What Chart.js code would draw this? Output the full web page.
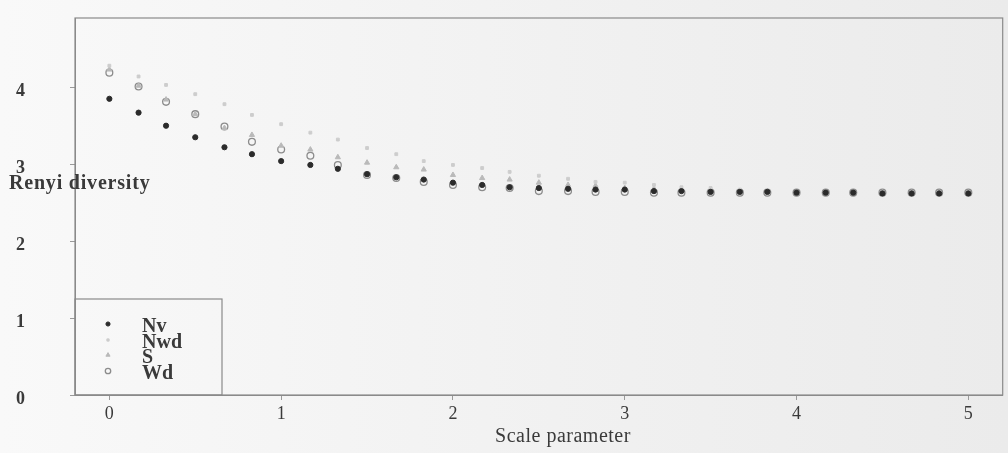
<!DOCTYPE html>
<html>
<head>
<meta charset="utf-8">
<script src="https://cdn.jsdelivr.net/npm/chart.js@4/dist/chart.umd.min.js"></script>
<style>
  html, body { margin: 0; padding: 0; }
  body { width: 1008px; height: 453px; overflow: hidden;
         background: linear-gradient(to right, #f9f9f9 0%, #f1f1f1 55%, #ebebeb 100%); }
</style>
</head>
<body>
<canvas id="chart-renyi" width="1008" height="453"></canvas>
<script>
// scale parameter (x) and Renyi diversity per site
const scaleParam = [0, 0.17, 0.33, 0.5, 0.67, 0.83, 1, 1.17, 1.33, 1.5, 1.67, 1.83, 2, 2.17, 2.33, 2.5,
                    2.67, 2.83, 3, 3.17, 3.33, 3.5, 3.67, 3.83, 4, 4.17, 4.33, 4.5, 4.67, 4.83, 5];
const nv  = [3.85, 3.67, 3.50, 3.35, 3.22, 3.13, 3.04, 2.99, 2.94, 2.87, 2.83, 2.80, 2.76, 2.73, 2.70, 2.69,
             2.68, 2.67, 2.67, 2.65, 2.65, 2.64, 2.64, 2.64, 2.63, 2.63, 2.63, 2.62, 2.62, 2.62, 2.62];
const nwd = [4.28, 4.14, 4.03, 3.91, 3.78, 3.64, 3.52, 3.41, 3.32, 3.21, 3.13, 3.04, 2.99, 2.95, 2.90, 2.85,
             2.81, 2.77, 2.76, 2.73, 2.70, 2.69, 2.67, 2.65, 2.64, 2.64, 2.63, 2.63, 2.63, 2.63, 2.63];
const s   = [4.23, 4.02, 3.84, 3.65, 3.47, 3.38, 3.24, 3.19, 3.09, 3.02, 2.96, 2.93, 2.86, 2.82, 2.80, 2.76,
             2.73, 2.72, 2.69, 2.68, 2.67, 2.65, 2.64, 2.64, 2.63, 2.63, 2.63, 2.63, 2.63, 2.63, 2.63];
const wd  = [4.19, 4.01, 3.81, 3.65, 3.49, 3.29, 3.19, 3.11, 2.99, 2.86, 2.82, 2.77, 2.73, 2.70, 2.69, 2.65,
             2.65, 2.64, 2.64, 2.63, 2.63, 2.63, 2.63, 2.63, 2.63, 2.63, 2.63, 2.63, 2.63, 2.63, 2.63];
const siteNames = ['Nv', 'Nwd', 'S', 'Wd'];
const xTicks = [0, 1, 2, 3, 4, 5];
const yTicks = [0, 1, 2, 3, 4];

const toPoints = (ys) => ys.map((y, i) => ({ x: scaleParam[i], y }));

const series = [
  { label: siteNames[0], data: toPoints(nv),  pointStyle: 'circle',   pointRadius: 2.6, backgroundColor: '#2b2b2b', borderColor: '#2b2b2b', pointBorderWidth: 1 },
  { label: siteNames[1], data: toPoints(nwd), pointStyle: 'rect',     pointRadius: 2,   backgroundColor: '#cdcdcd', borderColor: '#cdcdcd', pointBorderWidth: 1 },
  { label: siteNames[2], data: toPoints(s),   pointStyle: 'triangle', pointRadius: 3,   backgroundColor: '#b9b9b9', borderColor: '#b9b9b9', pointBorderWidth: 1 },
  { label: siteNames[3], data: toPoints(wd),  pointStyle: 'circle',   pointRadius: 3.4, backgroundColor: 'rgba(0,0,0,0)', borderColor: '#8c8c8c', pointBorderWidth: 1.3 }
];

// R style box, horizontal axis titles and bottom-left legend
const rPlotExtras = {
  id: 'rPlotExtras',
  afterDraw(chart) {
    const { ctx, chartArea: a } = chart;
    ctx.save();
    ctx.strokeStyle = '#8a8a8a';
    ctx.lineWidth = 1.2;
    ctx.strokeRect(a.left, a.top, a.right - a.left, a.bottom - a.top);

    ctx.fillStyle = '#3a3a3a';
    ctx.textBaseline = 'middle';
    ctx.textAlign = 'left';
    ctx.letterSpacing = '0.8px';
    ctx.font = 'bold 20px "Liberation Serif", serif';
    ctx.fillText('Renyi diversity', 9, 184);

    ctx.letterSpacing = '0.5px';
    ctx.textAlign = 'center';
    ctx.font = '20px "Liberation Serif", serif';
    ctx.fillText('Scale parameter', 563, 437);
    ctx.letterSpacing = '0px';

    // legend
    const bx = a.left, by = a.bottom - 96, bw = 147, bh = 96;
    ctx.strokeRect(bx, by, bw, bh);
    const rows = [by + 28, by + 44, by + 59, by + 75];
    ctx.textAlign = 'left';
    ctx.font = 'bold 20px "Liberation Serif", serif';
    series.forEach((ds, i) => {
      ctx.fillStyle = ds.backgroundColor;
      ctx.strokeStyle = ds.borderColor;
      ctx.lineWidth = ds.pointBorderWidth;
      Chart.helpers.drawPoint(ctx, { pointStyle: ds.pointStyle, radius: ds.pointRadius * 0.8, rotation: 0, borderWidth: ds.pointBorderWidth }, bx + 33, rows[i] - 3);
      ctx.fillStyle = '#3a3a3a';
      ctx.fillText(ds.label, bx + 67, rows[i]);
    });
    ctx.restore();
  }
};

let canvasRenyi = document.getElementById('chart-renyi').getContext('2d');

let renyiChart = new Chart(canvasRenyi, {
  type: 'scatter',
  data: { datasets: series },
  options: {
    responsive: false,
    animation: false,
    layout: { padding: { top: 18, right: 3, left: 16, bottom: 0 } },
    plugins: { legend: { display: false }, tooltip: { enabled: false } },
    scales: {
      x: {
        type: 'linear', min: -0.2, max: 5.2,
        afterFit: (sc) => { sc.height = 58; },
        afterBuildTicks: (sc) => { sc.ticks = xTicks.map(v => ({ value: v })); },
        grid: { drawOnChartArea: false, tickLength: 5, color: '#9a9a9a' },
        border: { color: '#8a8a8a' },
        ticks: { color: '#3a3a3a', padding: 3, font: { family: '"Liberation Serif", serif', size: 18 } }
      },
      y: {
        type: 'linear', min: 0, max: 4.9,
        afterFit: (sc) => { sc.width = 59; },
        afterBuildTicks: (sc) => { sc.ticks = yTicks.map(v => ({ value: v })); },
        grid: { drawOnChartArea: false, tickLength: 5, color: '#9a9a9a' },
        border: { color: '#8a8a8a' },
        ticks: { color: '#3a3a3a', padding: 4, crossAlign: 'far', labelOffset: 4,
                 font: { family: '"Liberation Serif", serif', size: 18, weight: 'bold' } }
      }
    }
  },
  plugins: [rPlotExtras]
});
</script>
</body>
</html>
